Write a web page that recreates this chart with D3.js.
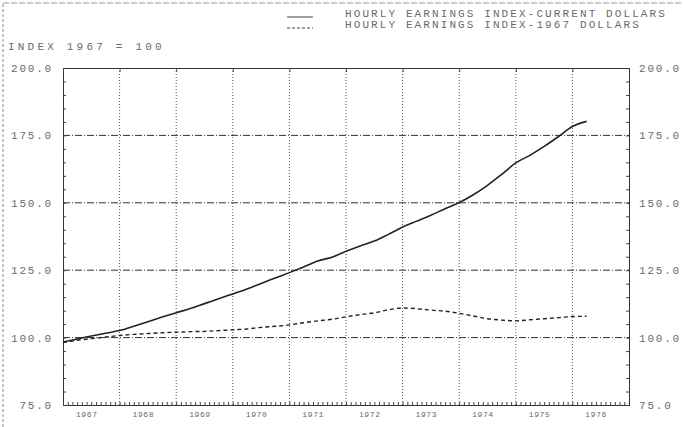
<!DOCTYPE html>
<html>
<head>
<meta charset="utf-8">
<script src="https://cdn.jsdelivr.net/npm/d3@7"></script>
<style>
  body { margin: 0; background: #fff; }
  svg { display: block; }
  .lbl { font-family: "Liberation Mono", "DejaVu Sans Mono", monospace; fill: #6a6a6a; }
</style>
</head>
<body>
<div id="container"></div>
<script>
// 数据 (quarterly, from 1967 Q1)
let startYear = 1967
let currentDollars = [98.4, 99.5, 100.6, 101.6, 102.6, 104.2, 105.9, 107.6,
  109.2, 110.8, 112.6, 114.4, 116.2, 118.0, 120.1, 122.1,
  124.1, 126.2, 128.4, 129.8, 132.0, 134.0, 135.8, 138.3,
  141.0, 143.2, 145.4, 147.8, 150.1, 153.0, 156.5, 160.5,
  164.8, 167.6, 170.9, 174.5, 178.3, 180.2]
let dollars1967 = [98.2, 99.0, 99.6, 100.2, 100.8, 101.2, 101.5, 101.8,
  102.0, 102.2, 102.3, 102.6, 102.9, 103.2, 103.8, 104.2,
  104.7, 105.5, 106.2, 106.8, 107.7, 108.5, 109.2, 110.3,
  111.0, 110.7, 110.2, 109.8, 109.0, 108.0, 107.0, 106.5,
  106.2, 106.6, 107.0, 107.4, 107.8, 107.9]
let years = [1967, 1968, 1969, 1970, 1971, 1972, 1973, 1974, 1975, 1976]
let yTicks = [75, 100, 125, 150, 175, 200]
let legendLabels = ['HOURLY EARNINGS INDEX-CURRENT DOLLARS', 'HOURLY EARNINGS INDEX-1967 DOLLARS']
let yTitle = 'INDEX 1967 = 100'

let width = 683,
  height = 427,
  plot = { left: 63, right: 629, top: 68, bottom: 405 }

let svg = d3.select('#container')
  .append('svg')
  .attr('width', width)
  .attr('height', height)

// 比例尺
let scale_x = d3.scaleLinear()
  .domain([startYear, startYear + years.length])
  .range([plot.left, plot.right])

let scale_y = d3.scaleLinear()
  .domain([75, 200])
  .range([plot.bottom, plot.top])

// scan border
svg.append('line')
  .attr('x1', 3).attr('x2', 3).attr('y1', 4).attr('y2', height)
  .style('stroke', '#888').style('stroke-dasharray', '3,2')
svg.append('line')
  .attr('x1', 3).attr('x2', width).attr('y1', 3).attr('y2', 3)
  .style('stroke', '#999').style('stroke-dasharray', '6,2')

// 网格
svg.append('g').selectAll('line')
  .data(yTicks.slice(1, -1)).enter().append('line')
  .attr('x1', plot.left).attr('x2', plot.right)
  .attr('y1', d => scale_y(d)).attr('y2', d => scale_y(d))
  .style('stroke', '#333')
  .style('stroke-dasharray', '7,2,1,2')

svg.append('g').selectAll('line')
  .data(years.slice(1)).enter().append('line')
  .attr('x1', d => scale_x(d)).attr('x2', d => scale_x(d))
  .attr('y1', plot.top).attr('y2', plot.bottom)
  .style('stroke', '#555')
  .style('stroke-dasharray', '1,2')

// 坐标轴 (minor ticks)
let minorY = d3.range(75, 200.1, 5)
let minorX = d3.range(startYear, startYear + years.length, 1 / 12)

let axes = svg.append('g')
axes.append('g')
  .attr('transform', 'translate(' + plot.left + ',0)')
  .call(d3.axisLeft(scale_y).tickValues(minorY).tickSize(-3).tickFormat(''))
axes.append('g')
  .attr('transform', 'translate(' + plot.right + ',0)')
  .call(d3.axisRight(scale_y).tickValues(minorY).tickSize(-3).tickFormat(''))
axes.append('g')
  .attr('transform', 'translate(0,' + plot.bottom + ')')
  .call(d3.axisBottom(scale_x).tickValues(minorX).tickSize(-3).tickFormat(''))
axes.append('g')
  .attr('transform', 'translate(0,' + plot.top + ')')
  .call(d3.axisTop(scale_x).tickValues(years).tickSize(-4).tickFormat(''))
axes.selectAll('path.domain').style('stroke', '#333')
axes.selectAll('line').style('stroke', '#444')

// y labels
let fmt = d3.format('.1f')
svg.append('g').selectAll('text')
  .data(yTicks).enter().append('text')
  .attr('class', 'lbl')
  .attr('x', 53)
  .attr('y', d => scale_y(d) + 4)
  .attr('text-anchor', 'end')
  .style('font-size', '11px')
  .style('letter-spacing', '1.8px')
  .text(d => fmt(d))

svg.append('g').selectAll('text')
  .data(yTicks).enter().append('text')
  .attr('class', 'lbl')
  .attr('x', 639)
  .attr('y', d => scale_y(d) + 4)
  .style('font-size', '11px')
  .style('letter-spacing', '1.8px')
  .text(d => fmt(d))

// year labels
svg.append('g').selectAll('text')
  .data(years).enter().append('text')
  .attr('class', 'lbl')
  .attr('x', d => scale_x(d + 0.42))
  .attr('y', 417)
  .attr('text-anchor', 'middle')
  .style('font-size', '8px')
  .style('letter-spacing', '0.6px')
  .text(d => d)

svg.append('text')
  .attr('class', 'lbl')
  .attr('x', 8)
  .attr('y', 50)
  .style('font-size', '11px')
  .style('letter-spacing', '3.2px')
  .text(yTitle)

// 折线
let series = [currentDollars, dollars1967]
let line = d3.line()
  .x((d, i) => scale_x(startYear + i / 4))
  .y(d => scale_y(d))
  .curve(d3.curveMonotoneX)

svg.append('g').selectAll('path')
  .data(series).enter().append('path')
  .attr('d', line)
  .style('fill', 'none')
  .style('stroke', '#222')
  .style('stroke-width', (d, i) => i === 0 ? 1.6 : 1.4)
  .style('stroke-dasharray', (d, i) => i === 0 ? null : '4,3')

// legend
let legend = svg.append('g').selectAll('g')
  .data(legendLabels).enter().append('g')
  .attr('transform', (d, i) => 'translate(0,' + (17 + i * 11) + ')')
legend.append('line')
  .attr('x1', 287).attr('x2', 313).attr('y1', 0).attr('y2', 0)
  .style('stroke', '#444')
  .style('stroke-dasharray', (d, i) => i === 0 ? null : '3,2')
legend.append('text')
  .attr('class', 'lbl')
  .attr('x', 345)
  .attr('y', 0)
  .style('font-size', '11px')
  .style('letter-spacing', '2.1px')
  .text(d => d)
</script>
</body>
</html>
